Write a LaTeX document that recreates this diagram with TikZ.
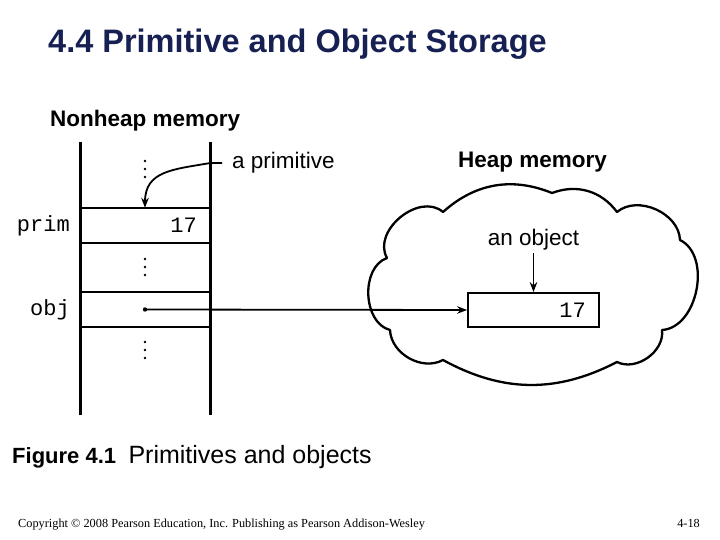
\documentclass[tikz,border=0pt]{standalone}
\usepackage{fontspec}
\setmainfont{Liberation Sans}
\setmonofont{Liberation Mono}
\newfontfamily\footfont{Liberation Serif}
\usetikzlibrary{arrows.meta}
\definecolor{titleblue}{RGB}{22,32,82}
\tikzset{
  wall/.style={line width=3pt},
  cellline/.style={line width=1.8pt},
  ptr/.style={line width=1.8pt, -{Stealth[length=10pt,width=7.5pt]}},
  lbl/.style={font=\fontsize{22.5}{26}\selectfont, inner sep=0pt},
  head/.style={font=\bfseries\fontsize{22.5}{26}\selectfont, inner sep=0pt},
  code/.style={font=\ttfamily\fontsize{22}{26}\selectfont, inner sep=0pt},
  cell/.style={minimum width=130pt, minimum height=35pt, inner sep=0pt},
}

\begin{document}
\begin{tikzpicture}[x=1pt,y=-1pt]
\useasboundingbox (0,0) rectangle (720,540);
% title
\node[anchor=base west, font=\bfseries\fontsize{32.5}{36}\selectfont, text=titleblue, inner sep=0pt] (title) at (48,53) {4.4 Primitive and Object Storage};

% nonheap memory (stack)
\node[head, anchor=base west] (nonheap) at (50,127) {Nonheap memory};
\draw[wall] (80,142) -- (80,415) (210,142) -- (210,415);
\node[cell] (primcell) at (145,225.5) {};
\node[cell] (objcell) at (145,309.5) {};
\draw[cellline] (primcell.north west) -- (primcell.north east) (primcell.south west) -- (primcell.south east);
\draw[cellline] (objcell.north west) -- (objcell.north east) (objcell.south west) -- (objcell.south east);
\foreach \y in {161,169,177, 259,267,275, 342,350,358}
  \fill (145,\y) circle (1.4pt);
\node[code, anchor=base east] (primname) at (70,232) {prim};
\node[code, anchor=base east] (primval) at (197,233) {17};
\node[code, anchor=base east] (objname) at (70,315) {obj};

% a primitive
\node[lbl, anchor=base west] (primlbl) at (232,169) {a primitive};
\coordinate (primtail) at (222,163);
\draw[ptr] (primtail) -- (primtail -| objcell.east) to[out=190,in=90,looseness=1.2] (primcell.north);

% heap memory (cloud)
\node[head, anchor=base west] (heap) at (458,168) {Heap memory};
\draw[line width=2.3pt, line join=round]
  (443,212) to[bend left=32] (552,193) to[bend left=37] (617,212)
  to[bend left=64] (680,240) to[bend left=75] (662,330)
  to[bend left=62] (617,362) to[bend left=28] (443,360)
  to[bend left=58] (390,330) to[bend left=73] (387,258)
  to[bend left=80, looseness=1.1] (443,212) -- cycle;
\node[draw, line width=1.8pt, minimum width=131pt, minimum height=34pt, inner sep=0pt, fill=white] (objbox) at (533.5,310) {};
\node[code, anchor=base east] (objval) at (586,317) {17};
\node[lbl, anchor=base] (objlbl) at (533.5,245) {an object};
\draw[ptr] (objlbl.south |- 0,253) -- (objbox.north);

% pointer from obj
\fill (objcell.center) circle (2.2pt);
\draw[ptr] (objcell.center) -- (objbox.west);

% caption and footer
\node[anchor=base west, font=\bfseries\fontsize{22}{26}\selectfont, inner sep=0pt] (fignum) at (12,463) {Figure 4.1};
\node[anchor=base west, font=\fontsize{25}{28}\selectfont, inner sep=0pt] (figtxt) at ([xshift=12pt]fignum.base east) {Primitives and objects};
\node[anchor=base west, font=\footfont\fontsize{12.3}{14}\selectfont, inner sep=0pt] (copy) at (18,527) {Copyright © 2008 Pearson Education, Inc. Publishing as Pearson Addison-Wesley};
\node[anchor=base east, font=\footfont\fontsize{12.3}{14}\selectfont, inner sep=0pt] (pageno) at (700,527) {4-18};
\end{tikzpicture}
\end{document}
